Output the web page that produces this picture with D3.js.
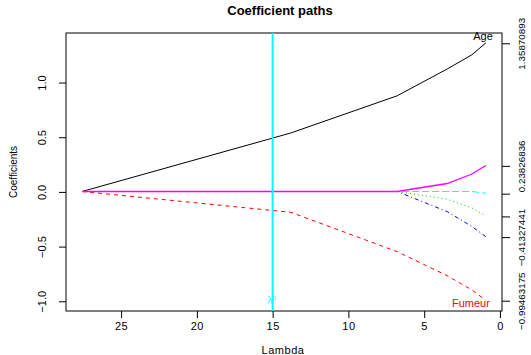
<!DOCTYPE html>
<html>
<head>
<meta charset="utf-8">
<script src="https://cdn.jsdelivr.net/npm/d3@7"></script>
<style>
  body { margin: 0; background: #fff; }
  svg { display: block; font-family: "Liberation Sans", Arial, sans-serif; }
</style>
</head>
<body>
<svg width="531" height="355"></svg>
<script>
// lambda values at the path breakpoints
const lambdas = [27.57, 13.8, 6.78, 3.48, 1.85, 0.93];

// coefficient of each variable at those lambdas
const coefAge    = [0, 0.535, 0.875, 1.12, 1.25, 1.35870893];
const coefFumeur = [0, -0.19, -0.55, -0.77, -0.9, -0.99463175];
const coefV3     = [0, 0, 0, -0.07, -0.15, -0.224];
const coefV4     = [0, 0, 0, -0.184, -0.32, -0.41327441];
const coefV5     = [0, 0, 0, 0, 0, -0.016];
const coefV6     = [0, 0, 0, 0.073, 0.16, 0.23826836];

const pathNames = ['Age', 'Fumeur', '', '', '', ''];
const xTicks = [25, 20, 15, 10, 5, 0];
const yTicks = [-1.0, -0.5, 0.0, 0.5, 1.0];
const rightLabels = ['1.35870893', '-0.99463175', '', '-0.41327441', '', '0.23826836'];
const chosenLambda = 15;

const svg = d3.select('svg');
const margin = { top: 33, right: 29, bottom: 44, left: 66 };
const width = +svg.attr('width');
const height = +svg.attr('height');

const allCoefs = [coefAge, coefFumeur, coefV3, coefV4, coefV5, coefV6];
// matplot defaults: col = 1:6, lty = 1:5
const colors = ['#000000', '#FF0000', '#00CD00', '#0000FF', '#00FFFF', '#FF00FF'];
const dashes = [null, '4,4', '1,3', '1,3,4,3', '7,3', null];

// R style 4% extension of the ranges
const xExt = (d3.max(lambdas) - d3.min(lambdas)) * 0.04;
const yMin = d3.min(allCoefs, c => d3.min(c));
const yMax = d3.max(allCoefs, c => d3.max(c));
const yExt = (yMax - yMin) * 0.04;

const xScale = d3.scaleLinear()
    .domain([d3.max(lambdas) + xExt, d3.min(lambdas) - xExt])
    .range([margin.left, width - margin.right]);

const yScale = d3.scaleLinear()
    .domain([yMin - yExt, yMax + yExt])
    .range([height - margin.bottom, margin.top]);

const tickFmt = d => d3.format('.1f')(d).replace('-', '\u2212');

// left axis
const yAxisG = svg.append('g')
    .attr('transform', `translate(${margin.left},0)`)
    .call(d3.axisLeft(yScale).tickValues(yTicks).tickSize(7).tickFormat(tickFmt));
yAxisG.select('.domain').remove();
yAxisG.selectAll('.tick text')
    .attr('x', 0).attr('dy', null)
    .attr('transform', 'translate(-20,0) rotate(-90)')
    .style('text-anchor', 'middle')
    .style('font-size', '11px')
    .attr('font-family', null);

// bottom axis
const xAxisG = svg.append('g')
    .attr('transform', `translate(0,${height - margin.bottom})`)
    .call(d3.axisBottom(xScale).tickValues(xTicks).tickSize(7).tickFormat(d3.format('d')));
xAxisG.select('.domain').remove();
xAxisG.selectAll('.tick text')
    .attr('y', 11)
    .style('font-size', '11px')
    .style('letter-spacing', '0.5px')
    .attr('font-family', null);

// right axis, ticks at final coefficient values
const finalVals = allCoefs.map(c => c[c.length - 1]);
const rightG = svg.append('g')
    .attr('transform', `translate(${width - margin.right},0)`)
    .call(d3.axisRight(yScale).tickValues(finalVals).tickSize(8)
        .tickFormat((d, i) => rightLabels[i].replace('-', '\u2212')));
rightG.select('.domain').remove();
rightG.selectAll('.tick text')
    .attr('x', 0).attr('dy', null)
    .attr('transform', 'translate(23,0) rotate(-90)')
    .style('text-anchor', 'middle')
    .style('font-size', '9.8px')
    .attr('font-family', null);

svg.selectAll('.tick line').attr('stroke', '#000');

// plot box
svg.append('rect')
    .attr('x', margin.left)
    .attr('y', margin.top)
    .attr('width', width - margin.left - margin.right)
    .attr('height', height - margin.top - margin.bottom)
    .attr('fill', 'none')
    .attr('stroke', '#000');

// coefficient paths (nudged so the zero line sits on a pixel row)
const line = d3.line()
    .x((d, i) => xScale(lambdas[i]))
    .y(d => yScale(d));

const zeroShift = Math.floor(yScale(0)) + 0.5 - yScale(0);
svg.append('g')
    .attr('transform', `translate(0,${zeroShift})`)
    .selectAll('path')
    .data(allCoefs)
    .join('path')
    .attr('d', line)
    .attr('fill', 'none')
    .attr('stroke', (d, i) => colors[i])
    .attr('stroke-width', (d, i) => i === 5 ? 1.3 : 1)
    .attr('stroke-dasharray', (d, i) => dashes[i]);

// chosen lambda
svg.append('line')
    .attr('x1', xScale(chosenLambda)).attr('x2', xScale(chosenLambda))
    .attr('y1', margin.top).attr('y2', height - margin.bottom)
    .attr('stroke', '#00FFFF')
    .attr('stroke-width', 2);

const lam = svg.append('text')
    .attr('x', xScale(chosenLambda) - 1)
    .attr('y', height - margin.bottom - 8)
    .attr('fill', '#00FFFF')
    .style('font-size', '9px')
    .style('text-anchor', 'middle');
lam.append('tspan').text('\u03bb');
lam.append('tspan').attr('dy', -3).style('font-size', '7px').text('o');

// variable names near the path ends
svg.append('text')
    .attr('x', xScale(d3.min(lambdas)) + 7)
    .attr('y', yScale(coefAge[coefAge.length - 1]) - 3)
    .style('text-anchor', 'end')
    .style('font-size', '11px')
    .text(pathNames[0]);

svg.append('text')
    .attr('x', xScale(d3.min(lambdas)) + 4)
    .attr('y', yScale(coefFumeur[coefFumeur.length - 1]) + 6)
    .style('text-anchor', 'end')
    .style('font-size', '11px')
    .attr('fill', '#FF0000')
    .text(pathNames[1]);

// titles
svg.append('text')
    .attr('x', 280)
    .attr('y', 15)
    .style('text-anchor', 'middle')
    .style('font-size', '13px')
    .style('font-weight', 'bold')
    .text('Coefficient paths');

svg.append('text')
    .attr('x', 283)
    .attr('y', 354)
    .style('text-anchor', 'middle')
    .style('font-size', '11px')
    .style('letter-spacing', '0.5px')
    .text('Lambda');

svg.append('text')
    .attr('transform', `translate(17,${(margin.top + height - margin.bottom) / 2}) rotate(-90)`)
    .style('text-anchor', 'middle')
    .style('font-size', '10px')
    .text('Coefficients');
</script>
</body>
</html>
